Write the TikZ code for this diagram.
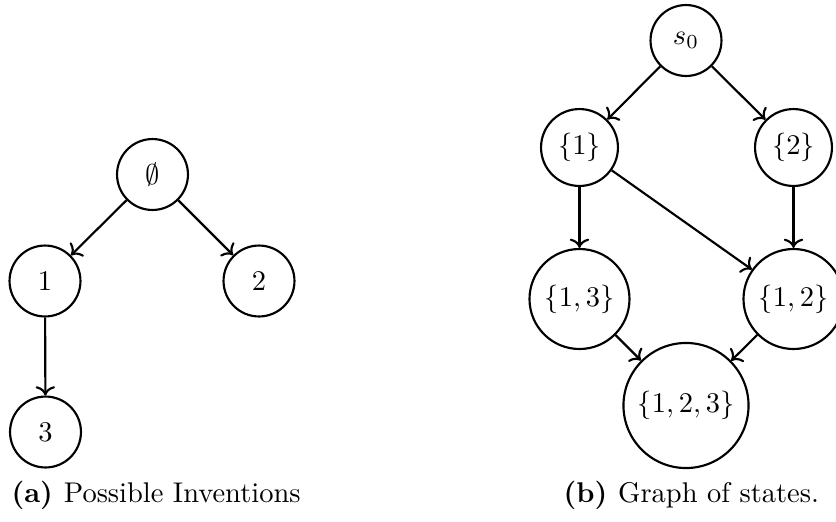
\documentclass[tikz,border=0pt]{standalone}
\usetikzlibrary{arrows.meta}
\tikzset{
  st/.style={draw, circle, inner sep=0pt, line width=0.75pt},
  sm/.style={st, minimum size=24.9pt},
  md/.style={st, minimum size=27.0pt},
  lg/.style={st, minimum size=35.1pt},
  xl/.style={st, minimum size=43.9pt},
  edge/.style={->, line width=0.75pt},
  captext/.style={anchor=base west, inner sep=0pt}
}
\begin{document}
\begin{tikzpicture}[x=0.351pt, y=-0.351pt]
\useasboundingbox (0,0) rectangle (836,521);
% (a)
\node[sm] (e) at (152.5,174.5) {$\emptyset$};
\node[sm] (a1) at (45,281) {$1$};
\node[sm] (a2) at (259,281) {$2$};
\node[sm] (a3) at (45.5,432) {$3$};
\draw[edge] (e) -- (a1);
\draw[edge] (e) -- (a2);
\draw[edge] (a1) -- (a3);
\node[captext] (ca) at (11,502) {\textbf{(a)~}Possible Inventions};
% (b)
\node[sm] (s0) at (686,40.5) {$s_0$};
\node[md] (b1) at (579.5,147.5) {$\{1\}$};
\node[md] (b2) at (793.5,147.5) {$\{2\}$};
\node[lg] (b13) at (579.5,299) {$\{1,3\}$};
\node[lg] (b12) at (793.5,299) {$\{1,2\}$};
\node[xl] (b123) at (686,405.5) {$\{1,2,3\}$};
\draw[edge] (s0) -- (b1);
\draw[edge] (s0) -- (b2);
\draw[edge] (b1) -- (b13);
\draw[edge] (b1) -- (b12);
\draw[edge] (b2) -- (b12);
\draw[edge] (b13) -- (b123);
\draw[edge] (b12) -- (b123);
\node[captext] (cb) at (563,502) {\textbf{(b)~}Graph of states.};
\end{tikzpicture}
\end{document}
